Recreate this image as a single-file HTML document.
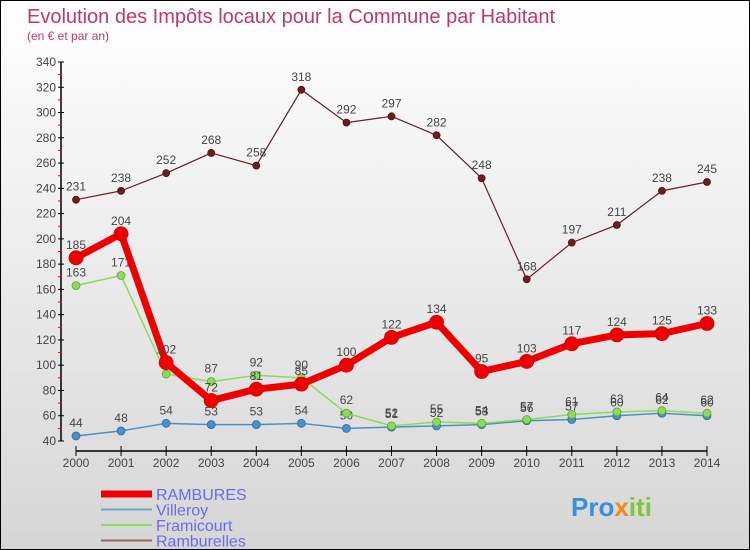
<!DOCTYPE html>
<html><head><meta charset="utf-8"><style>
body{margin:0}
#c{width:748px;height:548px;border:1px solid #000;background:linear-gradient(#ffffff,#d6d6d6);position:relative;overflow:hidden;font-family:"Liberation Sans","DejaVu Sans",sans-serif}
svg{position:absolute;left:0;top:0}
</style></head><body>
<div id="c">
<svg id="s" width="750" height="550">
<text x="26" y="22" font-size="20" fill="#c0396d">Evolution des Impôts locaux pour la Commune par Habitant</text>
<text x="26" y="39" font-size="12" fill="#c0396d">(en € et par an)</text>
<text x="570" y="515" font-size="26" font-weight="bold" fill="#3a8fd8">Pro<tspan fill="#f08a1c">x</tspan><tspan fill="#7cc83a">iti</tspan></text>
</svg>
</div>
<script>
const years=[2000,2001,2002,2003,2004,2005,2006,2007,2008,2009,2010,2011,2012,2013,2014];
const yTicks=[40,60,80,100,120,140,160,180,200,220,240,260,280,300,320,340];
const rambures=[185,204,102,72,81,85,100,122,134,95,103,117,124,125,133];
const villeroy=[44,48,54,53,53,54,50,51,52,53,56,57,60,62,60];
const framicourt=[163,171,93,87,92,90,62,52,55,54,57,61,63,64,62];
const ramburelles=[231,238,252,268,258,318,292,297,282,248,168,197,211,238,245];
const NS='http://www.w3.org/2000/svg';
const s=document.getElementById('s');
const X=i=>75+i*(631/14);
const Y=v=>440-(v-40)*(379/300);
function el(t,a,p){const e=document.createElementNS(NS,t);for(const k in a)e.setAttribute(k,a[k]);(p||s).appendChild(e);return e;}
// axes
let ax=el('line',{x1:60,y1:Y(340),x2:60,y2:440,stroke:'#000','stroke-width':1.5});


let bx=el('line',{x1:75,y1:450,x2:706,y2:450,stroke:'#000','stroke-width':1.5});


yTicks.forEach((v,i)=>{
 el('line',{x1:57,y1:Y(v),x2:63,y2:Y(v),stroke:'#000'});
 if(i<yTicks.length-1)el('line',{x1:57,y1:Y(v+10),x2:61,y2:Y(v+10),stroke:'#e00'});
 const t=el('text',{x:55,y:Y(v)+4,'text-anchor':'end','font-size':12,fill:'#444'});t.textContent=v;
 
 
});
years.forEach((y,i)=>{
 el('line',{x1:X(i),y1:445,x2:X(i),y2:455,stroke:'#000'});
 const t=el('text',{x:X(i),y:466,'text-anchor':'middle','font-size':12,fill:'#444'});t.textContent=y;
 
 
});
function series(d,color,w,r,name,dark){
 const g=el('g',{});
 
 
 el('polyline',{points:d.map((v,i)=>X(i)+','+Y(v)).join(' '),fill:'none',stroke:color,'stroke-width':w,'stroke-linejoin':'round'},g);
 d.forEach((v,i)=>{
  const c=el('circle',{cx:X(i),cy:Y(v),r:r,fill:color,stroke:dark,'stroke-width':0.8},g);
  
  
  const t=el('text',{x:X(i),y:Y(v)-9,'text-anchor':'middle','font-size':12,fill:'#444'},g);t.textContent=v;
  
  
 });
}
series(ramburelles,'#6b1c24',1.2,3.5,'ramburelles','#4a1015');
series(villeroy,'#4a8fc8',1.5,4,'villeroy','#2a6fa8');
series(framicourt,'#8ed85a',1.5,4,'framicourt','#5aa830');
series(rambures,'#ee0000',7,7,'rambures','#cc0000');
const leg=[['RAMBURES','#ee0000',7],['Villeroy','#6ba5d0',2],['Framicourt','#8ed85a',2],['Ramburelles','#9a6060',2]];
leg.forEach((l,i)=>{
 const y=493+i*15.5;
 const ln=el('line',{x1:100,y1:y,x2:151,y2:y,stroke:l[1],'stroke-width':l[2]});
 
 
 const t=el('text',{x:155,y:y+6,'font-size':16,fill:'#6a6af0'});t.textContent=l[0];
 
 
});
</script>
</body></html>
